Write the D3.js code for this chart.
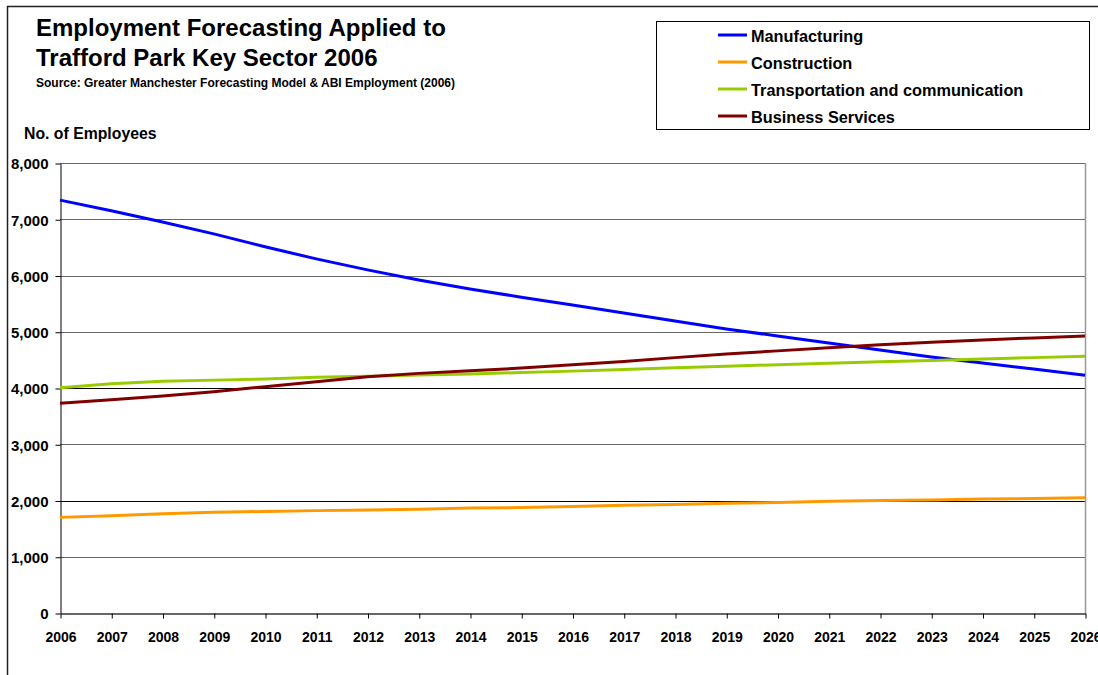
<!DOCTYPE html>
<html>
<head>
  <title>Employment Forecasting Applied to Trafford Park</title>
  <script src="https://d3js.org/d3.v7.min.js"></script>
  <style>
    body { margin: 0; background: #fff; }
    text { font-family: "Liberation Sans", Arial, sans-serif; font-weight: bold; fill: #000; }
  </style>
</head>
<body>
  <svg id="chart"></svg>

  <script>
    // years on the x axis
    const years = d3.range(2006, 2027);

    // series values
    const manufacturing = [7340, 7150, 6950, 6740, 6510, 6295, 6100, 5920, 5760, 5615, 5475,
                           5335, 5190, 5050, 4925, 4800, 4676, 4551, 4444, 4338, 4225];
    const construction  = [1700, 1730, 1765, 1790, 1805, 1820, 1830, 1845, 1865, 1875, 1895,
                           1915, 1930, 1950, 1965, 1985, 2000, 2010, 2025, 2035, 2050];
    const transport     = [4005, 4075, 4120, 4140, 4160, 4190, 4210, 4230, 4250, 4275, 4300,
                           4330, 4360, 4385, 4415, 4440, 4465, 4490, 4515, 4540, 4563];
    const business      = [3727, 3793, 3858, 3935, 4024, 4112, 4200, 4260, 4305, 4355, 4415,
                           4470, 4540, 4605, 4660, 4715, 4770, 4815, 4855, 4890, 4925];

    const seriesNames  = ["Manufacturing", "Construction", "Transportation and communication", "Business Services"];
    const seriesColors = ["#0000ff", "#ff9900", "#99cc00", "#800000"];
    const seriesValues = [manufacturing, construction, transport, business];

    const yTicks = [0, 1000, 2000, 3000, 4000, 5000, 6000, 7000, 8000];

    const width = 1098, height = 675;
    const plot = { left: 60, right: 1085, top: 163, bottom: 613 };

    const svg = d3.select("#chart").attr("width", width).attr("height", height);

    // chart area border (only left & top visible)
    svg.append("path")
       .attr("d", `M7.5,${height} V6.5 H${width}`)
       .attr("fill", "none").attr("stroke", "#222").attr("stroke-width", 1.5);

    const x = d3.scaleLinear().domain([2006, 2026]).range([plot.left, plot.right]);
    const y = d3.scaleLinear().domain([0, 8000]).range([plot.bottom, plot.top]);

    // titles
    svg.append("text").attr("x", 36).attr("y", 36).style("font-size", "24px")
       .text("Employment Forecasting Applied to");
    svg.append("text").attr("x", 36).attr("y", 66).style("font-size", "24px")
       .text("Trafford Park Key Sector 2006");
    svg.append("text").attr("x", 36).attr("y", 87).style("font-size", "12px")
       .text("Source: Greater Manchester Forecasting Model & ABI Employment (2006)");
    svg.append("text").attr("x", 24).attr("y", 139).style("font-size", "15.8px")
       .text("No. of Employees");

    // gridlines
    svg.append("g").selectAll("line")
       .data(yTicks.filter(d => d > 0))
       .join("line")
       .attr("x1", plot.left).attr("x2", plot.right)
       .attr("y1", d => Math.round(y(d)) + 0.5).attr("y2", d => Math.round(y(d)) + 0.5)
       .attr("stroke", d => (d === 2000 || d === 4000) ? "#000" : "#666")
       .attr("stroke-width", 1);

    // right border of plot area
    svg.append("line")
       .attr("x1", plot.right + 0.5).attr("x2", plot.right + 0.5)
       .attr("y1", plot.top).attr("y2", plot.bottom)
       .attr("stroke", "#999").attr("stroke-width", 1.5);

    // y axis
    const yAxis = svg.append("g")
       .attr("transform", `translate(${plot.left + 0.5},0.5)`)
       .call(d3.axisLeft(y).tickValues(yTicks).tickSize(5).tickSizeOuter(0)
               .tickFormat(d3.format(",")));
    yAxis.select(".domain").attr("stroke", "#000");
    yAxis.selectAll(".tick line").attr("stroke", "#000");
    yAxis.selectAll(".tick text").attr("x", -12).attr("dy", "0.36em")
         .style("font-size", "15px").style("font-family", "'Liberation Sans', Arial, sans-serif")
         .style("font-weight", "bold");

    // x axis
    const xAxis = svg.append("g")
       .attr("transform", `translate(0.5,${plot.bottom + 0.5})`)
       .call(d3.axisBottom(x).tickValues(years).tickSize(5).tickSizeOuter(0)
               .tickFormat(d3.format("d")));
    xAxis.select(".domain").attr("stroke", "#333").attr("stroke-width", 1.5);
    xAxis.selectAll(".tick line").attr("stroke", "#000");
    xAxis.selectAll(".tick text").attr("y", 19).attr("dy", "0.71em")
         .style("font-size", "14px").style("font-family", "'Liberation Sans', Arial, sans-serif")
         .style("font-weight", "bold");

    // lines
    const line = d3.line().x((d, i) => x(years[i])).y(d => y(d));
    svg.append("g").selectAll("path")
       .data(seriesValues)
       .join("path")
       .attr("d", line)
       .attr("fill", "none")
       .attr("stroke", (d, i) => seriesColors[i])
       .attr("stroke-width", 3)
       .attr("stroke-linejoin", "round");

    // legend
    const legend = svg.append("g");
    legend.append("rect")
       .attr("x", 656.5).attr("y", 21.5).attr("width", 433).attr("height", 108)
       .attr("fill", "#fff").attr("stroke", "#000").attr("stroke-width", 1);
    const rows = legend.selectAll("g.row")
       .data(seriesNames)
       .join("g").attr("class", "row")
       .attr("transform", (d, i) => `translate(0,${35 + i * 27})`);
    rows.append("line")
       .attr("x1", 718).attr("x2", 747).attr("y1", 0).attr("y2", 0)
       .attr("stroke", (d, i) => seriesColors[i]).attr("stroke-width", 3);
    rows.append("text")
       .attr("x", 751).attr("y", 7)
       .style("font-size", "16.3px")
       .text(d => d);
  </script>
</body>
</html>
